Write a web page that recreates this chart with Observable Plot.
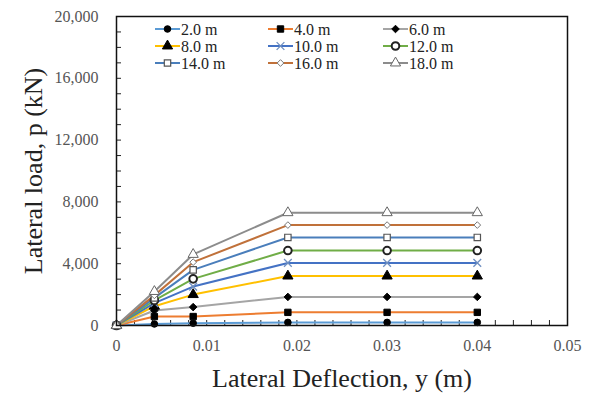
<!DOCTYPE html>
<html>
<head>
<meta charset="utf-8">
<script src="https://cdn.jsdelivr.net/npm/d3@7"></script>
<script src="https://cdn.jsdelivr.net/npm/@observablehq/plot@0.6"></script>
<style>
  html, body { margin: 0; padding: 0; background: #fff; }
  #chart { width: 601px; height: 396px; }
  #chart svg, #chart svg text { font-family: "Liberation Serif", "DejaVu Serif", "Times New Roman", serif !important; }
</style>
</head>
<body>
<div id="chart"></div>
<script>
// ---- data ----
const deflection = [0, 0.0042, 0.0085, 0.019, 0.03, 0.04];
const seriesNames = ["2.0 m", "4.0 m", "6.0 m", "8.0 m", "10.0 m", "12.0 m", "14.0 m", "16.0 m", "18.0 m"];
const p2  = [0, 100, 150, 200, 200, 200];
const p4  = [0, 580, 580, 850, 850, 850];
const p6  = [0, 970, 1190, 1850, 1850, 1850];
const p8  = [0, 1250, 2000, 3200, 3200, 3200];
const p10 = [0, 1450, 2520, 4050, 4050, 4050];
const p12 = [0, 1620, 3020, 4850, 4850, 4850];
const p14 = [0, 1790, 3600, 5700, 5700, 5700];
const p16 = [0, 1950, 4100, 6500, 6500, 6500];
const p18 = [0, 2200, 4600, 7300, 7300, 7300];
const seriesValues = [p2, p4, p6, p8, p10, p12, p14, p16, p18];
const xTickLabels = [0, 0.01, 0.02, 0.03, 0.04, 0.05];
const yTickLabels = [0, 4000, 8000, 12000, 16000, 20000];
const xMinorTicks = [0,0.002,0.004,0.006,0.008,0.01,0.012,0.014,0.016,0.018,0.02,0.022,0.024,0.026,0.028,0.03,0.032,0.034,0.036,0.038,0.04,0.042,0.044,0.046,0.048,0.05];
const yMinorTicks = [0,1000,2000,3000,4000,5000,6000,7000,8000,9000,10000,11000,12000,13000,14000,15000,16000,17000,18000,19000,20000];

// ---- styles ----
const lineColors = ["#5B9BD5", "#ED7D31", "#A5A5A5", "#FFC000", "#4472C4", "#70AD47", "#4A7EBB", "#C0713A", "#8C8C8C"];
const markerStyles = [
  {symbol: "circle",   fill: "black", stroke: "black", r: 3.3, sw: 1},
  {symbol: "square",   fill: "black", stroke: "black", r: 3.6, sw: 1},
  {symbol: "diamond2", fill: "black", stroke: "black", r: 3.4, sw: 1},
  {symbol: "triangle", fill: "black", stroke: "black", r: 3.8, sw: 1},
  {symbol: "times",    fill: "none",  stroke: "#6F8FC0", r: 3.6, sw: 1.3},
  {symbol: "circle",   fill: "white", stroke: "#222", r: 3.8, sw: 2},
  {symbol: "square",   fill: "white", stroke: "#555", r: 3.6, sw: 1.2},
  {symbol: "diamond2", fill: "white", stroke: "#777", r: 3.0, sw: 1},
  {symbol: "triangle", fill: "white", stroke: "#666", r: 3.8, sw: 1}
];

const W = 601, H = 396;
const mL = 116, mR = 34, mT = 16, mB = 71;
const frameW = W - mL - mR, frameH = H - mT - mB;
const serif = "'Liberation Serif', 'DejaVu Serif', 'Times New Roman', serif";

const rows = [];
seriesNames.forEach((name, i) => {
  deflection.forEach((x, j) => rows.push({series: name, idx: i, x, p: seriesValues[i][j]}));
});

const marks = [];
marks.push(Plot.tickX(xMinorTicks, {x: d => d, insetTop: frameH - 5, stroke: "#222"}));
marks.push(Plot.tickY(yMinorTicks, {y: d => d, insetRight: frameW - 5, stroke: "#222"}));
seriesNames.forEach((name, i) => {
  const data = rows.filter(d => d.idx === i);
  marks.push(Plot.line(data, {x: "x", y: "p", stroke: lineColors[i], strokeWidth: 2}));
});
seriesNames.forEach((name, i) => {
  const data = rows.filter(d => d.idx === i);
  const m = markerStyles[i];
  marks.push(Plot.dot(data, {x: "x", y: "p", symbol: m.symbol, r: m.r, fill: m.fill, stroke: m.stroke, strokeWidth: m.sw}));
});
marks.push(Plot.frame({stroke: "#111", strokeWidth: 1.5}));
marks.push(Plot.axisX({ticks: xTickLabels, tickSize: 0, tickPadding: 14, tickFormat: d => String(d), fontSize: 16, fill: "#555", label: null}));
marks.push(Plot.axisY({ticks: yTickLabels, tickSize: 0, tickPadding: 18, tickFormat: d3.format(","), fontSize: 16, fill: "#555", label: null}));
marks.push(Plot.text(["Lateral Deflection, y (m)"], {frameAnchor: "bottom", dy: 53, fontSize: 26, fill: "#222", textAnchor: "middle", lineAnchor: "middle"}));
marks.push(Plot.text(["Lateral load, p (kN)"], {frameAnchor: "left", dx: -83, rotate: -90, fontSize: 26, fill: "#222", textAnchor: "middle", lineAnchor: "middle"}));

const chart = Plot.plot({
  width: W, height: H,
  marginLeft: mL, marginRight: mR, marginTop: mT, marginBottom: mB,
  style: {fontFamily: serif, background: "white"},
  x: {domain: [0, 0.05]},
  y: {domain: [0, 20000]},
  marks
});
document.getElementById("chart").appendChild(chart);

// ---- legend inside the plot area ----
const symbolMap = {circle: d3.symbolCircle, square: d3.symbolSquare, diamond2: d3.symbolDiamond2, triangle: d3.symbolTriangle, times: d3.symbolTimes};
const svg = d3.select(chart);
const lg = svg.append("g").attr("font-size", 16).attr("fill", "#222").attr("text-anchor", "start");
const colX = [155, 268, 383];
const rowY = [29, 46, 63];
seriesNames.forEach((name, i) => {
  const cx = colX[i % 3], cy = rowY[Math.floor(i / 3)];
  const m = markerStyles[i];
  lg.append("line").attr("x1", cx).attr("x2", cx + 25).attr("y1", cy).attr("y2", cy)
    .attr("stroke", lineColors[i]).attr("stroke-width", 2);
  lg.append("path").attr("transform", `translate(${cx + 12.5},${cy})`)
    .attr("d", d3.symbol(symbolMap[m.symbol], m.r * m.r * Math.PI)())
    .attr("fill", m.fill).attr("stroke", m.stroke).attr("stroke-width", m.sw);
  lg.append("text").attr("x", cx + 26).attr("y", cy).attr("dy", "0.35em").attr("text-anchor", "start").text(name);
});
</script>
</body>
</html>
